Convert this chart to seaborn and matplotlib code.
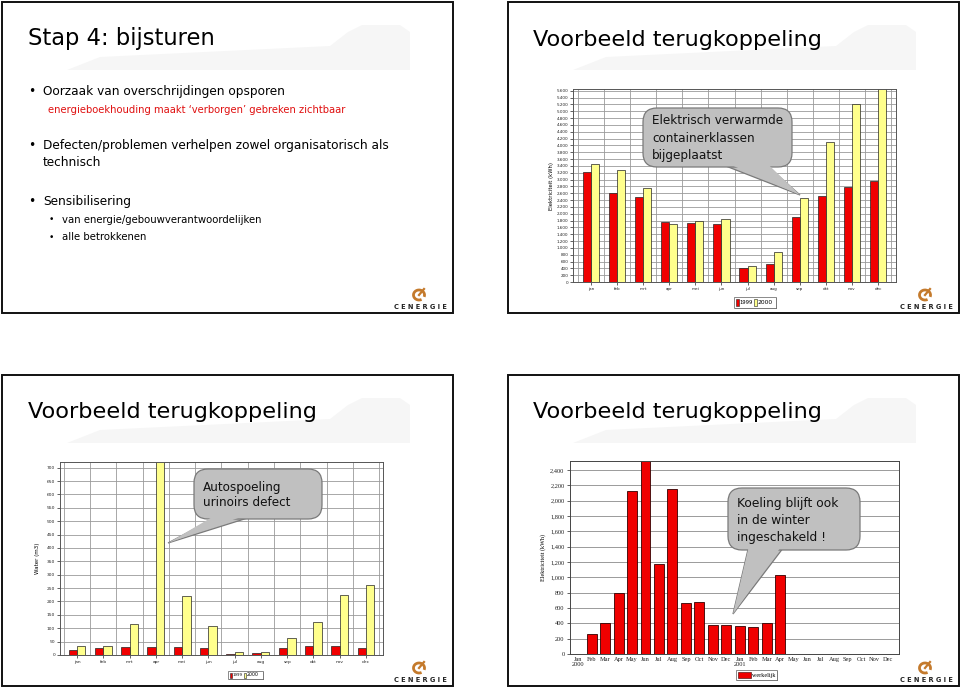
import numpy as np
import pandas as pd
import matplotlib
matplotlib.use("Agg")
import matplotlib.pyplot as plt
import seaborn as sns
from matplotlib.patches import Rectangle, FancyBboxPatch, Polygon, Arc
from matplotlib.ticker import FuncFormatter

# ---------------- data ----------------
maanden = ["jan", "feb", "mrt", "apr", "mei", "jun", "jul", "aug", "sep", "okt", "nov", "dec"]
jaren = ["1999", "2000"]
elek_1999 = [3220, 2600, 2500, 1750, 1720, 1690, 400, 520, 1910, 2510, 2780, 2950]
elek_2000 = [3440, 3270, 2740, 1690, 1800, 1840, 460, 880, 2450, 4090, 5200, 5700]
water_1999 = [17, 25, 30, 30, 30, 27, 5, 8, 25, 32, 32, 25]
water_2000 = [33, 35, 115, 760, 220, 110, 10, 12, 65, 122, 223, 260]
koel_keys = ["Jan 2000", "Feb 2000", "Mar 2000", "Apr 2000", "May 2000", "Jun 2000",
             "Jul 2000", "Aug 2000", "Sep 2000", "Oct 2000", "Nov 2000", "Dec 2000",
             "Jan 2001", "Feb 2001", "Mar 2001", "Apr 2001", "May 2001", "Jun 2001",
             "Jul 2001", "Aug 2001", "Sep 2001", "Oct 2001", "Nov 2001", "Dec 2001"]
koel_labels = ["Jan\n2000", "Feb", "Mar", "Apr", "May", "Jun", "Jul", "Aug", "Sep", "Oct", "Nov", "Dec",
               "Jan\n2001", "Feb", "Mar", "Apr", "May", "Jun", "Jul", "Aug", "Sep", "Oct", "Nov", "Dec"]
koel_werkelijk = [0, 260, 400, 800, 2130, 2550, 1180, 2150, 660, 680, 375, 380,
                  365, 350, 410, 1030, 0, 0, 0, 0, 0, 0, 0, 0]

RED = "#f00000"
YEL = "#ffff8c"
W, H = 960, 689
plt.rcParams["font.family"] = ["DejaVu Sans"]

fig = plt.figure(figsize=(W / 100, H / 100), dpi=100)
fig.patch.set_facecolor("white")


def rect(x0, y0, x1, y1):
    return [x0 / W, 1 - y1 / H, (x1 - x0) / W, (y1 - y0) / H]


def style_small(ax, grid_x=True, fs=3.2):
    ax.set_xlabel("")
    ax.tick_params(axis="both", length=2, width=0.5, labelsize=fs, pad=1.5, colors="#222222")
    for s in ax.spines.values():
        s.set_linewidth(0.7)
        s.set_color("#555555")
    ax.set_axisbelow(True)
    ax.yaxis.grid(True, color="#9a9a9a", linewidth=0.6)
    if grid_x:
        n = len(maanden)
        ax.set_xticks(np.arange(-0.5, n, 1), minor=True)
        ax.tick_params(axis="x", which="minor", length=0)
        ax.xaxis.grid(True, which="minor", color="#9a9a9a", linewidth=0.6)


# ---------------- chart 1: elektriciteit 1999/2000 ----------------
df1 = pd.DataFrame({
    "maand": maanden * 2,
    "jaar": [jaren[0]] * 12 + [jaren[1]] * 12,
    "waarde": elek_1999 + elek_2000,
})
ax1 = fig.add_axes(rect(573, 89, 896, 282))
sns.barplot(data=df1, x="maand", y="waarde", hue="jaar", order=maanden, hue_order=jaren,
            palette={jaren[0]: RED, jaren[1]: YEL}, saturation=1, width=0.62, edgecolor="#222222",
            linewidth=0.5, legend=False, ax=ax1)
ax1.set_xlim(-0.69, 11.69)
ax1.set_ylim(0, 5650)
ax1.set_yticks(np.arange(0, 5601, 200))
ax1.yaxis.set_major_formatter(FuncFormatter(lambda v, p: f"{int(v):,}".replace(",", ".")))
style_small(ax1, fs=3.0)
ax1.set_ylabel("Elektriciteit (kWh)", fontsize=3.8, labelpad=2)

# ---------------- chart 2: water ----------------
df2 = pd.DataFrame({
    "maand": maanden * 2,
    "jaar": [jaren[0]] * 12 + [jaren[1]] * 12,
    "waarde": water_1999 + water_2000,
})
ax2 = fig.add_axes(rect(60, 462, 383, 655))
sns.barplot(data=df2, x="maand", y="waarde", hue="jaar", order=maanden, hue_order=jaren,
            palette={jaren[0]: RED, jaren[1]: YEL}, saturation=1, width=0.64, edgecolor="#222222",
            linewidth=0.5, legend=False, ax=ax2)
ax2.set_xlim(-0.65, 11.65)
ax2.set_ylim(0, 721)
ax2.set_yticks(np.arange(0, 701, 50))
style_small(ax2, fs=3.2)
ax2.set_ylabel("Water (m3)", fontsize=4.0, labelpad=5)

# ---------------- chart 3: koeling ----------------
df3 = pd.DataFrame({"maand": koel_keys, "waarde": koel_werkelijk})
ax3 = fig.add_axes(rect(570, 461, 899, 654))
sns.barplot(data=df3, x="maand", y="waarde", order=koel_keys, color=RED, saturation=1,
            width=0.74, edgecolor="#330000", linewidth=0.6, ax=ax3)
ax3.set_xlim(-0.6, 23.8)
ax3.set_ylim(0, 2517)
ax3.set_yticks(np.arange(0, 2401, 200))
ax3.yaxis.set_major_formatter(FuncFormatter(lambda v, p: f"{int(v):,}"))
ax3.set_xticks(range(len(koel_keys)))
ax3.set_xticklabels(koel_labels, family="Liberation Serif", fontsize=4.6, linespacing=1.0)
for lab in ax3.get_yticklabels():
    lab.set_family("Liberation Serif")
ax3.set_xlabel("")
ax3.tick_params(axis="both", length=2, width=0.5, labelsize=4.6, pad=2, colors="#222222")
ax3.tick_params(axis="x", length=0)
ax3.set_axisbelow(True)
ax3.yaxis.grid(True, color="#8a8a8a", linewidth=0.6)
for s in ax3.spines.values():
    s.set_linewidth(0.7)
    s.set_color("#444444")
ax3.set_ylabel("Elektriciteit (kWh)", fontsize=4.4, family="Liberation Serif", labelpad=3)

# ---------------- overlay: slides, text, callouts ----------------
ov = fig.add_axes([0, 0, 1, 1])
ov.set_xlim(0, W)
ov.set_ylim(H, 0)
ov.axis("off")
ov.set_zorder(10)
ov.patch.set_alpha(0)

renderer = fig.canvas.get_renderer()


def fit(x, y, s, width, size0=10, **kw):
    t = ov.text(x, y, s, fontsize=size0, **kw)
    w = t.get_window_extent(renderer).width
    t.set_fontsize(size0 * width / w)
    return t.get_fontsize()


def txt(x, y, s, size, **kw):
    return ov.text(x, y, s, fontsize=size, **kw)


slides = [(2, 2), (508, 2), (2, 375), (508, 375)]
for (sx, sy) in slides:
    ov.add_patch(Rectangle((sx, sy), 451, 311, fill=False, edgecolor="#111111", linewidth=1.4, zorder=1))
    pts = [(65, 68), (98, 55), (328, 44), (346, 30), (360, 23), (398, 23), (408, 30), (408, 68)]
    ov.add_patch(Polygon([(sx + a, sy + b) for a, b in pts], closed=True,
                         facecolor="#f6f6f6", edgecolor="none", zorder=0.5))
    # logo
    lx = sx + 417
    ly = sy + 293
    ov.add_patch(Arc((lx, ly), 11, 10, theta1=60, theta2=380, color="#c47a2c", linewidth=2.0, zorder=2))
    ov.plot([lx, lx + 5], [ly, ly - 6], color="#c47a2c", linewidth=1.6, zorder=2)
    fit(sx + 392, sy + 305, "C E N E R G I E", 53, va="center", ha="left",
        fontweight="bold", color="#222222", zorder=2)

# titles
fit(28, 38, "Stap 4: bijsturen", 187, va="center", ha="left", color="black")
for (x, y) in [(533, 40), (28, 412), (533, 412)]:
    fit(x, y, "Voorbeeld terugkoppeling", 289, va="center", ha="left", color="black")

# bullets top-left slide
fs_b = fit(43, 92, "Oorzaak van overschrijdingen opsporen", 243, va="center", ha="left")
fit(48, 110, "energieboekhouding maakt \u2018verborgen\u2019 gebreken zichtbaar", 300,
    va="center", ha="left", color="#e01010")
txt(43, 146, "Defecten/problemen verhelpen zowel organisatorisch als", fs_b, va="center", ha="left")
txt(43, 163, "technisch", fs_b, va="center", ha="left")
txt(43, 202, "Sensibilisering", fs_b, va="center", ha="left")
for yy in (92, 146, 202):
    txt(28, yy, "\u2022", fs_b, va="center", ha="left")
fs_s = fit(62, 220, "van energie/gebouwverantwoordelijken", 201, va="center", ha="left")
txt(62, 237, "alle betrokkenen", fs_s, va="center", ha="left")
for yy in (220, 237):
    txt(49, yy, "\u2022", fs_s * 0.9, va="center", ha="left")


# callouts
def callout(box, tail, lines, x_text, ys, width_longest):
    x0, y0, x1, y1 = box
    (bl, br, by), tip = tail[0], tail[1]
    gray = "#c0c0c0"
    edge = "#7a7a7a"
    tri = [(bl, by), tip, (br, by)]
    ov.add_patch(Polygon(tri, closed=True, facecolor=gray, edgecolor=edge, linewidth=0.9, zorder=3))
    ov.add_patch(FancyBboxPatch((x0, y0), x1 - x0, y1 - y0,
                                boxstyle="round,pad=0,rounding_size=14",
                                facecolor=gray, edgecolor=edge, linewidth=0.9, zorder=4))
    tri2 = [(bl + 0.8, by - 3), (tip[0], tip[1]), (br - 0.8, by - 3)]
    ov.add_patch(Polygon(tri2, closed=True, facecolor=gray, edgecolor="none", zorder=5))
    longest = max(lines, key=len)
    t = ov.text(x_text, ys[0], longest, fontsize=10, va="center", ha="left", zorder=6)
    w = t.get_window_extent(renderer).width
    fs = 10 * width_longest / w
    t.remove()
    for s, y in zip(lines, ys):
        ov.text(x_text, y, s, fontsize=fs, va="center", ha="left", color="#111111", zorder=6)


callout((643, 108, 792, 167), ((727, 768, 166.5), (800, 195)),
        ["Elektrisch verwarmde", "containerklassen", "bijgeplaatst"], 652, [121, 138, 155], 131)
callout((194, 469, 322, 519), ((214, 246, 518.5), (168, 543)),
        ["Autospoeling", "urinoirs defect"], 203, [487, 503], 87)
callout((728, 488, 860, 550), ((748, 782, 549.5), (733, 614)),
        ["Koeling blijft ook", "in de winter", "ingeschakeld !"], 737, [504, 521, 537], 102)


# legends
def legend_box(x, y, w, h):
    ov.add_patch(Rectangle((x + 1.2, y + 1.2), w, h, facecolor="#222222", edgecolor="none", zorder=2))
    ov.add_patch(Rectangle((x, y), w, h, facecolor="white", edgecolor="#777777", linewidth=0.6, zorder=3))


legend_box(734, 297, 42, 11)
ov.add_patch(Rectangle((736, 299), 2.5, 7, facecolor=RED, edgecolor="#222222", linewidth=0.4, zorder=4))
fit(739.5, 302.5, jaren[0], 13, va="center", ha="left", zorder=4)
ov.add_patch(Rectangle((754, 299), 2.5, 7, facecolor=YEL, edgecolor="#222222", linewidth=0.4, zorder=4))
fit(757.5, 302.5, jaren[1], 15, va="center", ha="left", zorder=4)

legend_box(228, 671, 35, 8)
ov.add_patch(Rectangle((229.5, 672.5), 2, 5, facecolor=RED, edgecolor="#222222", linewidth=0.4, zorder=4))
fit(232.5, 675, jaren[0], 10, va="center", ha="left", zorder=4)
ov.add_patch(Rectangle((244, 672.5), 2, 5, facecolor=YEL, edgecolor="#222222", linewidth=0.4, zorder=4))
fit(247, 675, jaren[1], 12, va="center", ha="left", zorder=4)

legend_box(736, 670, 41, 10)
ov.add_patch(Rectangle((737.5, 672), 13, 6, facecolor=RED, edgecolor="#330000", linewidth=0.4, zorder=4))
fit(752, 675, "werkelijk", 23, va="center", ha="left", family="Liberation Serif", zorder=4)

fig.savefig("out.png", dpi=100, facecolor="white")
